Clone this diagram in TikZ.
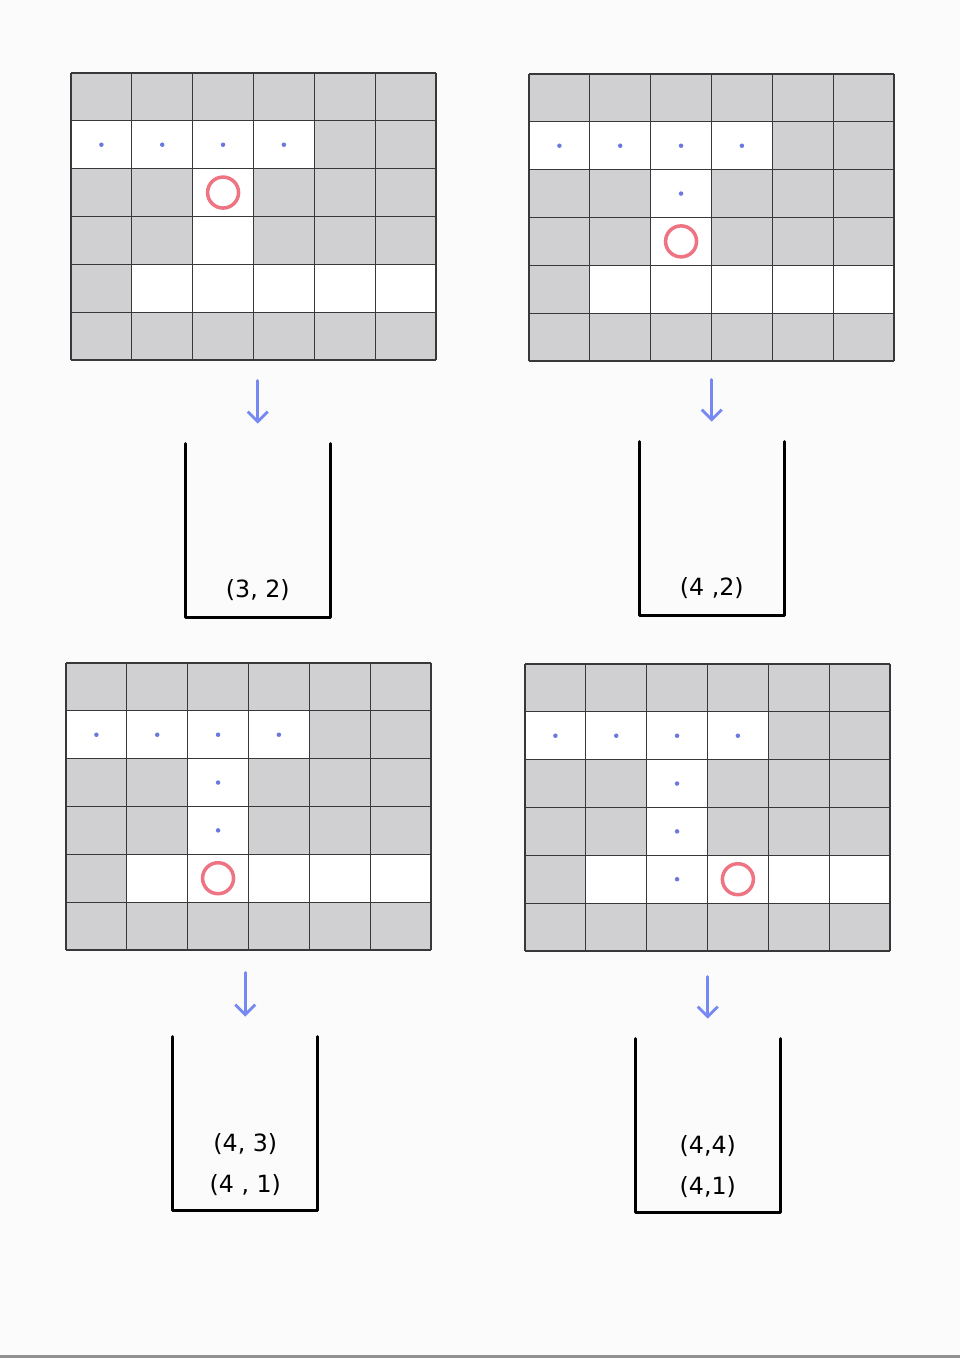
\documentclass[tikz,border=0pt]{standalone}
\usepackage{fontspec}
\setmainfont{DejaVu Sans}
\usetikzlibrary{arrows.meta,positioning}
\definecolor{paper}{HTML}{FBFBFB}
\definecolor{wallgray}{HTML}{D0CFD1}
\definecolor{visitblue}{HTML}{6A78E0}
\definecolor{arrowblue}{HTML}{7689F2}
\definecolor{curred}{HTML}{EE7484}
\tikzset{
  wall/.style={fill=wallgray},
  gridline/.style={draw=black!78, line width=0.7pt},
  visited/.style={fill=visitblue},
  current/.style={draw=curred, line width=2pt},
  stack/.style={
    minimum width=2.88cm,
    minimum height=3.46cm,
    inner sep=0pt
  },
  bucket/.style={
    draw=black,
    line width=1.7pt,
    line join=round,
    line cap=round
  },
  item/.style={
    text=black,
    font=\fontsize{13.5}{16}\selectfont,
    inner sep=1pt
  },
  flow/.style={
    -{Straight Barb[length=2mm,width=4mm]},
    draw=arrowblue,
    line width=1.6pt,
    line cap=round
  }
}

% #1,#2 top left corner, #3 node name, #4 visited cells, #5 current cell
\newcommand{\maze}[5]{%
  \begin{scope}[shift={(#1,#2)}, x=1.2167cm, y=-0.9567cm]
    \node[inner sep=0pt, minimum width=7.3cm, minimum height=5.74cm,
      anchor=north west] (#3) at (0,0) {};
    \fill[wall] (0,0) rectangle (6,6);
    \fill[white] (0,1) rectangle (4,2);
    \fill[white] (2,2) rectangle (3,4);
    \fill[white] (1,4) rectangle (6,5);
    \foreach \k in {0,...,6} {
      \draw[gridline] (\k,0) -- (\k,6);
      \draw[gridline] (0,\k) -- (6,\k);
    }
    \foreach \c/\r in {#4}
      \fill[visited] (\c+0.5,\r+0.5) circle (0.045cm);
    \draw[current] (#5) circle (0.31cm);
  \end{scope}}

\begin{document}
\begin{tikzpicture}[x=0.02cm, y=-0.02cm]
  \fill[paper] (0,0) rectangle (960,1358);
  \useasboundingbox (0,0) rectangle (960,1358);
  \fill[black!43] (0,1355) rectangle (960,1358);

  \maze{71}{73}{gridA}{0/1,1/1,2/1,3/1}{2.5,2.5}
  \maze{529}{74}{gridB}{0/1,1/1,2/1,3/1,2/2}{2.5,3.5}
  \maze{66}{663}{gridC}{0/1,1/1,2/1,3/1,2/2,2/3}{2.5,4.5}
  \maze{525}{664}{gridD}{0/1,1/1,2/1,3/1,2/2,2/3,2/4}{3.5,4.5}

  \node[stack, below=1.66cm of gridA, xshift=0.08cm] (stackA) {};
  \node[stack, below=1.6cm of gridB] (stackB) {};
  \node[stack, below=1.72cm of gridC, xshift=-0.07cm] (stackC) {};
  \node[stack, below=1.74cm of gridD] (stackD) {};

  \foreach \s in {stackA,stackB,stackC,stackD}
    \draw[bucket] (\s.north west) -- (\s.south west)
      -- (\s.south east) -- (\s.north east);

  \node[item, above=0.3cm of stackA.south] (itemA1) {(3, 2)};
  \node[item, above=0.3cm of stackB.south] (itemB1) {(4 ,2)};
  \node[item, above=0.26cm of stackC.south] (itemC1) {(4 , 1)};
  \node[item, above=0.3cm of itemC1] (itemC2) {(4, 3)};
  \node[item, above=0.26cm of stackD.south] (itemD1) {(4,1)};
  \node[item, above=0.3cm of itemD1] (itemD2) {(4,4)};

  \draw[flow] ([xshift=0.08cm,yshift=-0.4cm]gridA.south) -- ([yshift=0.4cm]stackA.north);
  \draw[flow] ([yshift=-0.36cm]gridB.south) -- ([yshift=0.4cm]stackB.north);
  \draw[flow] ([xshift=-0.07cm,yshift=-0.44cm]gridC.south) -- ([yshift=0.4cm]stackC.north);
  \draw[flow] ([yshift=-0.5cm]gridD.south) -- ([yshift=0.4cm]stackD.north);
\end{tikzpicture}
\end{document}
